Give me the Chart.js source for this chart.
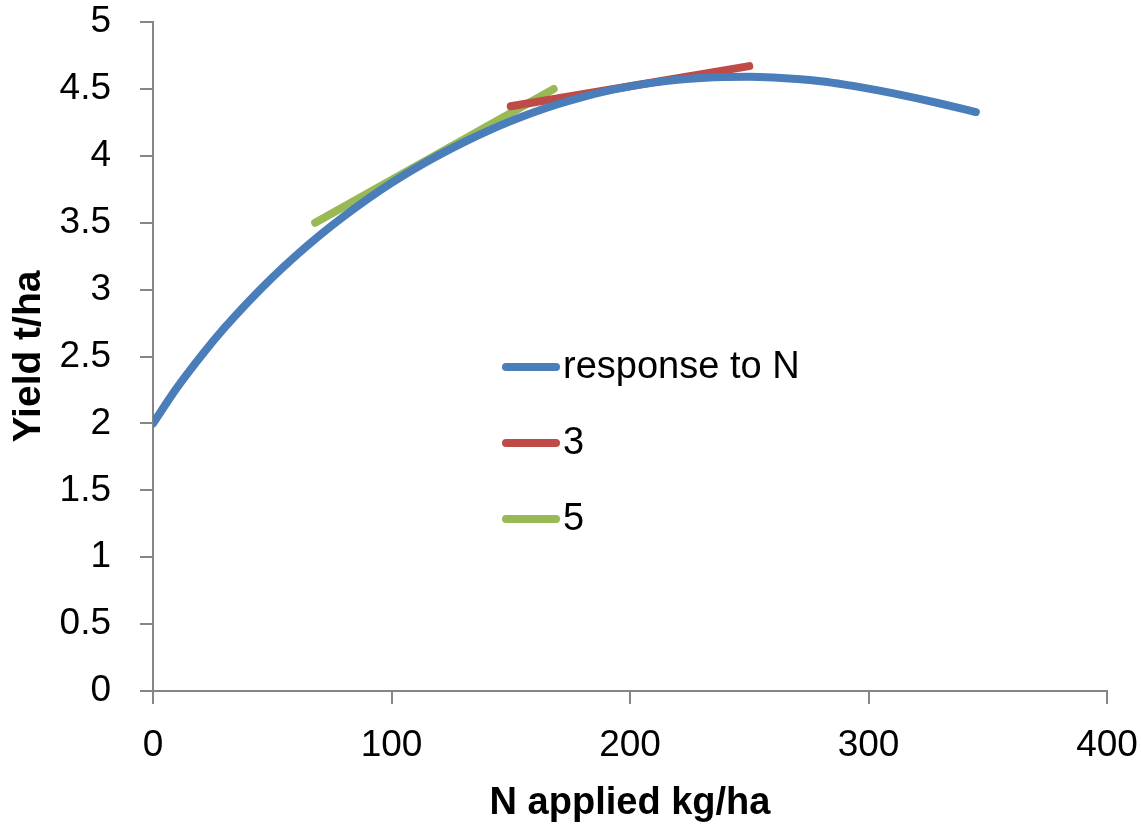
<!DOCTYPE html>
<html>
<head>
<meta charset="utf-8">
<script src="https://cdn.jsdelivr.net/npm/chart.js@4/dist/chart.umd.min.js"></script>
<style>
  html, body { margin: 0; padding: 0; background: #ffffff; }
  #wrap { position: relative; width: 1141px; height: 826px; }
</style>
</head>
<body>
<div id="wrap"><canvas id="c" width="1141" height="826"></canvas></div>
<script>
// ---- data ----
const responseN   = [0, 10, 20, 30, 40, 50, 60, 70, 80, 90, 100, 110, 120, 130, 140, 150, 160, 170, 180, 190, 200, 210, 220, 230, 240, 250, 260, 270, 280, 290, 300, 310, 320, 330, 340, 345];
const responseY   = [2.0, 2.265, 2.50, 2.715, 2.91, 3.09, 3.255, 3.407, 3.547, 3.677, 3.797, 3.907, 4.007, 4.099, 4.183, 4.259, 4.327, 4.387, 4.439, 4.483, 4.519, 4.547, 4.568, 4.582, 4.589, 4.59, 4.585, 4.574, 4.557, 4.532, 4.502, 4.468, 4.431, 4.391, 4.349, 4.327];
const ratio3N     = [150, 250];
const ratio3Y     = [4.37, 4.67];
const ratio5N     = [68, 168];
const ratio5Y     = [3.5, 4.5];
const seriesNames = ['response to N', '3', '5'];
const xTicks      = [0, 100, 200, 300, 400];
const yTicks      = [0, 0.5, 1, 1.5, 2, 2.5, 3, 3.5, 4, 4.5, 5];

const colors = ['#4A7EBB', '#BE4B48', '#98B954'];
const pts = (xs, ys) => xs.map((x, i) => ({ x: x, y: ys[i] }));

const legendPlugin = {
  id: 'insideLegend',
  afterDraw(chart) {
    const ctx = chart.ctx;
    const items = [
      { y: 367, color: colors[0], text: seriesNames[0] },
      { y: 443, color: colors[1], text: seriesNames[1] },
      { y: 519, color: colors[2], text: seriesNames[2] }
    ];
    ctx.save();
    items.forEach(it => {
      ctx.strokeStyle = it.color;
      ctx.lineWidth = 8;
      ctx.lineCap = 'round';
      ctx.beginPath();
      ctx.moveTo(506, it.y);
      ctx.lineTo(556, it.y);
      ctx.stroke();
      ctx.fillStyle = '#000000';
      ctx.font = '38px "Liberation Sans", Arial, sans-serif';
      ctx.textBaseline = 'middle';
      ctx.textAlign = 'left';
      ctx.fillText(it.text, 563, it.y + 1);
    });
    ctx.restore();
  }
};

const lineDs = (label, data, color) => ({
  label: label,
  data: data,
  borderColor: color,
  backgroundColor: color,
  borderWidth: 8,
  borderCapStyle: 'round',
  borderJoinStyle: 'round',
  pointRadius: 0,
  pointHoverRadius: 0,
  fill: false,
  cubicInterpolationMode: 'monotone'
});

const fontFamily = '"Liberation Sans", Arial, sans-serif';

new Chart(document.getElementById('c'), {
  type: 'line',
  data: {
    datasets: [
      lineDs(seriesNames[0], pts(responseN, responseY), colors[0]),
      lineDs(seriesNames[1], pts(ratio3N, ratio3Y), colors[1]),
      lineDs(seriesNames[2], pts(ratio5N, ratio5Y), colors[2])
    ]
  },
  options: {
    responsive: false,
    animation: false,
    devicePixelRatio: 1,
    layout: { padding: 0 },
    plugins: { legend: { display: false }, tooltip: { enabled: false } },
    scales: {
      x: {
        type: 'linear',
        min: 0, max: 400,
        afterBuildTicks: s => { s.ticks = xTicks.map(v => ({ value: v })); },
        afterFit: s => { s.height = 135; s.paddingLeft = 0; s.paddingRight = 34; },
        border: { display: true, color: '#868686', width: 2 },
        grid: { display: true, drawOnChartArea: false, drawTicks: true, tickLength: 13, color: '#868686', lineWidth: 2 },
        ticks: { color: '#000000', padding: 20, maxRotation: 0, callback: v => String(v), font: { family: fontFamily, size: 37 } },
        title: { display: true, text: 'N applied kg/ha', color: '#000000', padding: { top: 0, bottom: 0 }, font: { family: fontFamily, size: 38, weight: 'bold' } }
      },
      y: {
        type: 'linear',
        min: 0, max: 5,
        afterBuildTicks: s => { s.ticks = yTicks.map(v => ({ value: v })); },
        afterFit: s => { s.width = 153; s.paddingTop = 22; s.paddingBottom = 0; },
        border: { display: true, color: '#868686', width: 2 },
        grid: { display: true, drawOnChartArea: false, drawTicks: true, tickLength: 13, color: '#868686', lineWidth: 2 },
        ticks: { color: '#000000', padding: 29, callback: v => String(v), font: { family: fontFamily, size: 37 } },
        title: { display: true, text: 'Yield t/ha', color: '#000000', padding: { top: 6, bottom: 0 }, font: { family: fontFamily, size: 39, weight: 'bold' } }
      }
    }
  },
  plugins: [legendPlugin]
});
</script>
</body>
</html>
